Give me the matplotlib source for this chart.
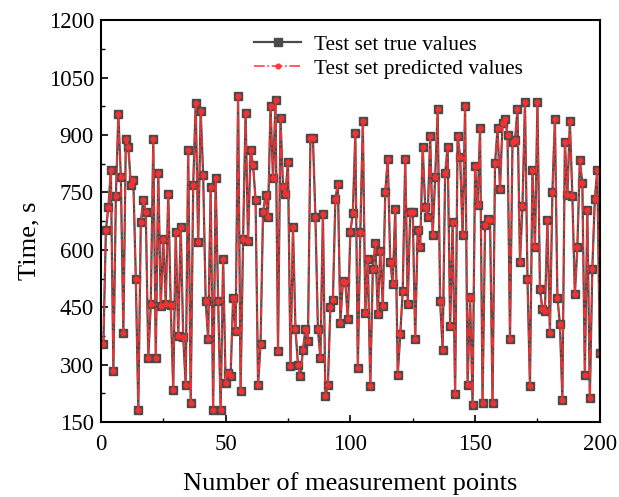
import numpy as np
import matplotlib
matplotlib.use("Agg")
import matplotlib.pyplot as plt
from matplotlib.ticker import MultipleLocator

# measured times (s) for the 200 test points
true_values = [
    353, 651, 712, 810, 282, 740, 955, 790, 383, 890, 870, 770, 782, 525, 182, 673,
    730, 700, 318, 458, 890, 318, 800, 453,
    629, 458, 747, 455, 234, 647, 374, 660, 372, 247, 861, 199, 769, 984, 620, 964,
    795, 467, 366, 765, 182, 787, 467, 182, 576, 253,
    278, 270, 475, 388, 1003, 230, 629, 958, 622, 861, 822, 731, 247, 353, 699, 743,
    686, 975, 787, 991, 335, 945, 765, 747, 831, 295, 660,
    392, 300, 269, 339, 392, 361, 892, 892, 686, 392, 318, 695, 217, 247, 451, 468,
    734, 772, 410, 519, 515, 418, 647, 697, 905, 291,
    647, 936, 436, 576, 243, 550, 618, 433, 597, 453, 752, 838, 568, 510, 708, 274,
    379, 493, 838, 458, 700, 699, 366, 653, 607, 870, 712,
    686, 897, 638, 791, 967, 465, 339, 800, 870, 401, 673, 222, 897, 844, 638, 975,
    247, 477, 195, 818, 717, 918, 199, 664, 680,
    677, 199, 826, 918, 760, 931, 942, 901, 366, 883, 887, 967, 568, 714, 986, 524,
    243, 809, 607, 986, 497, 445, 440, 677, 383, 752,
    942, 475, 407, 208, 883, 743, 936, 740, 484, 607, 835, 774, 274, 703, 212, 550,
    734, 809, 331,
]
# model output sits on top of the measured curve
pred_values = list(true_values)
points = np.arange(1, len(true_values) + 1)

x_ticks = [0, 50, 100, 150, 200]
y_ticks = [150, 300, 450, 600, 750, 900, 1050, 1200]

plt.rcParams['font.family'] = ['Liberation Serif', 'DejaVu Serif']


def main():
    fig = plt.figure(figsize=(6.19, 4.97), dpi=100)
    ax = fig.add_axes([0.163, 0.151, 0.806, 0.808])

    ax.plot(points, true_values, color='#4a4a4a', lw=1.6, marker='s', ms=5.5,
            mfc='#4a4a4a', mec='#4a4a4a', label='Test set true values')
    ax.plot(points, pred_values, color='#ff3030', lw=1.2, ls='-.', marker='o', ms=3.4,
            mfc='#ff3030', mec='#ff3030', alpha=0.9, label='Test set predicted values')

    ax.set_xlim(0, 200)
    ax.set_ylim(150, 1200)
    ax.set_xticks(x_ticks)
    ax.set_yticks(y_ticks)
    ax.xaxis.set_minor_locator(MultipleLocator(25))
    ax.yaxis.set_minor_locator(MultipleLocator(75))
    ax.tick_params(which='both', direction='in', top=False, right=False)
    ax.tick_params(which='major', length=5, width=1.2, labelsize=16.5, pad=5)
    ax.tick_params(axis='x', which='major', pad=9)
    ax.tick_params(which='minor', length=3, width=1.0)
    for s in ax.spines.values():
        s.set_linewidth(1.5)

    ax.set_xlabel('Number of measurement points', fontsize=19)
    ax.xaxis.set_label_coords(0.5, -0.125)
    ax.set_ylabel('Time, s', fontsize=19)
    ax.yaxis.set_label_coords(-0.122, 0.45)

    ax.legend(loc='upper left', bbox_to_anchor=(0.269, 1.012), frameon=False,
              fontsize=15.3, handlelength=2.2, handletextpad=0.6, labelspacing=0.2)

    fig.savefig('out.png', dpi=100)


if __name__ == "__main__":
    main()
